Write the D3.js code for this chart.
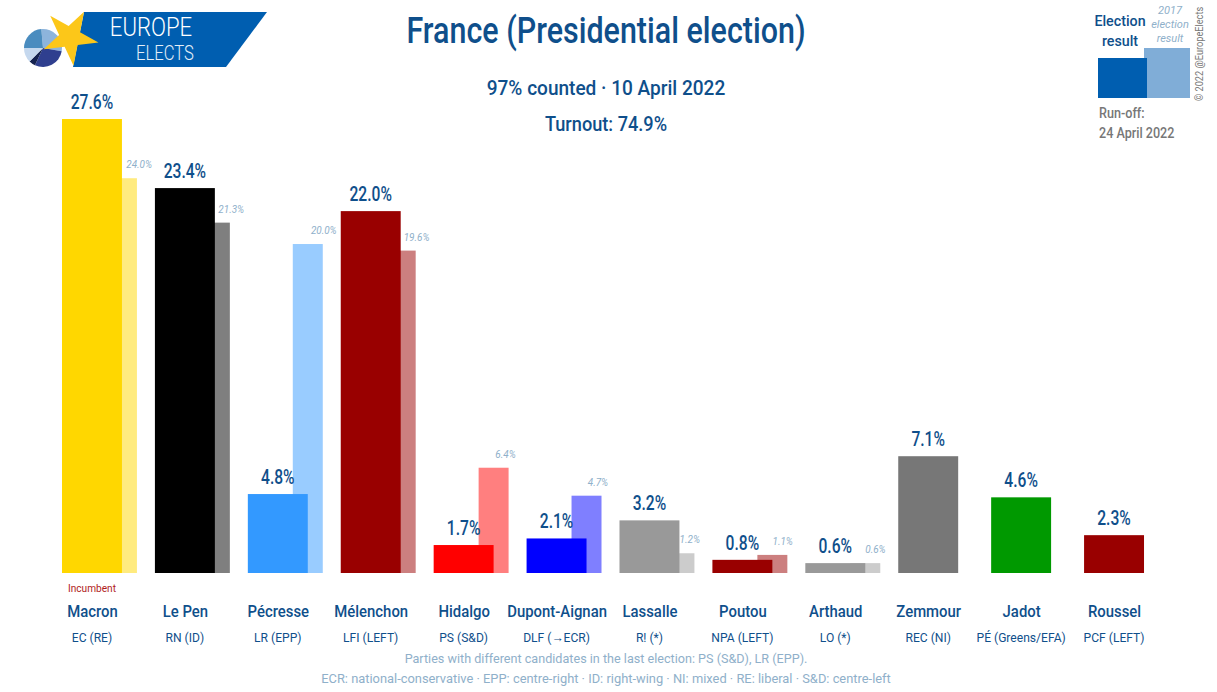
<!DOCTYPE html>
<html>
<head>
<meta charset="utf-8">
<script src="https://cdn.jsdelivr.net/npm/d3@7"></script>
<style>
    body { margin: 0; background: #fff; }
    svg { display: block; }
    text { font-family: "Roboto", sans-serif; }
</style>
</head>
<body>
<svg id="chart" width="1217" height="692"></svg>
<script>
const candidates = ["Macron","Le Pen","Pécresse","Mélenchon","Hidalgo","Dupont-Aignan","Lassalle","Poutou","Arthaud","Zemmour","Jadot","Roussel"]
const parties = ["EC (RE)","RN (ID)","LR (EPP)","LFI (LEFT)","PS (S&D)","DLF (→ECR)","R! (*)","NPA (LEFT)","LO (*)","REC (NI)","PÉ (Greens/EFA)","PCF (LEFT)"]
const results = [27.6,23.4,4.8,22.0,1.7,2.1,3.2,0.8,0.6,7.1,4.6,2.3]
const previous = [24.0,21.3,20.0,19.6,6.4,4.7,1.2,1.1,0.6,null,null,null]
const colors = ["#FFD700","#000000","#3399FF","#990000","#FF0000","#0000FF","#999999","#990000","#999999","#777777","#009900","#990000"]
const logoPie = [105,105,20,45,85]
const logoPieColors = ["#8db4dc","#2f3f8f","#15224f","#c5d8ee","#4a8cbf"]

const navy = "#0f4f8b"
const pale = "#8fb0ca"

const svg = d3.select("#chart")
const rows = candidates.map((name,i)=>({name,party:parties[i],value:results[i],prev:previous[i],color:colors[i]}))

// the font is wider than the original, so text gets pulled in horizontally
const squeeze = (sel,k)=>sel.each(function(){
    d3.select(this)
        .attr("textLength",this.getComputedTextLength()*k)
        .attr("lengthAdjust","spacingAndGlyphs")
})

const baseline = 573
const y = d3.scaleLinear().domain([0,27.6]).range([baseline,119])

// one band = main bar (60px) + the part of the old bar sticking out (15px)
const band = d3.scaleBand().domain(candidates).range([62,1159]).paddingInner(18/93)
const mainWidth = band.bandwidth()*0.8
const prevWidth = band.bandwidth()*0.4
const prevLeft = (d)=>band(d.name)+band.bandwidth()-prevWidth

// old bars go first so the new ones sit on top
svg.append("g").selectAll("rect")
    .data(rows.filter(d=>d.prev!==null))
    .join("rect")
    .attr("x",prevLeft)
    .attr("y",d=>y(d.prev))
    .attr("width",prevWidth)
    .attr("height",d=>baseline-y(d.prev))
    .attr("fill",d=>d.color)
    .attr("fill-opacity",0.5)

svg.append("g").selectAll("rect")
    .data(rows)
    .join("rect")
    .attr("x",d=>band(d.name))
    .attr("y",d=>y(d.value))
    .attr("width",mainWidth)
    .attr("height",d=>baseline-y(d.value))
    .attr("fill",d=>d.color)

svg.append("g").selectAll("text")
    .data(rows)
    .join("text")
    .attr("x",d=>band(d.name)+mainWidth/2)
    .attr("y",d=>y(d.value)-10)
    .attr("text-anchor","middle")
    .attr("font-size",20)
    .attr("font-weight",500)
    .attr("fill",navy)
    .text(d=>d.value.toFixed(1)+"%")
    .call(squeeze,0.78)

svg.append("g").selectAll("text")
    .data(rows.filter(d=>d.prev!==null))
    .join("text")
    .attr("x",d=>prevLeft(d)+prevWidth/2+10+d.prev*0.3)
    .attr("y",d=>y(d.prev)-10)
    .attr("text-anchor","middle")
    .attr("font-size",11)
    .attr("font-style","italic")
    .attr("fill",pale)
    .text(d=>d.prev.toFixed(1)+"%")
    .call(squeeze,0.9)

// names and parties sit on the bar centre
const xLabel = d3.scalePoint().domain(candidates).range([band(candidates[0])+mainWidth/2,band(candidates[11])+mainWidth/2])

svg.append("g")
    .attr("transform",`translate(0,${baseline+44})`)
    .call(d3.axisBottom(xLabel).tickSize(0).tickPadding(0))
    .call(g=>g.select(".domain").remove())
    .call(g=>g.selectAll("text")
        .attr("dy",0)
        .attr("y",0)
        .attr("font-size",16)
        .attr("font-weight",500)
        .attr("fill",navy)
        .call(squeeze,0.93))

svg.append("g").selectAll("text")
    .data(rows)
    .join("text")
    .attr("x",d=>xLabel(d.name))
    .attr("y",baseline+69)
    .attr("text-anchor","middle")
    .attr("font-size",13)
    .attr("fill",navy)
    .text(d=>d.party)
    .call(squeeze,0.93)

svg.append("text")
    .attr("x",xLabel("Macron"))
    .attr("y",baseline+19)
    .attr("text-anchor","middle")
    .attr("font-size",11)
    .attr("fill","#b01c1c")
    .text("Incumbent")
    .call(squeeze,0.92)

const addText = (txt,x,yy,size,fill,k,extra={})=>{
    const t = svg.append("text")
        .attr("x",x).attr("y",yy)
        .attr("text-anchor",extra.anchor||"middle")
        .attr("font-size",size)
        .attr("fill",fill)
        .text(txt)
    if(extra.weight) t.attr("font-weight",extra.weight)
    if(extra.style) t.attr("font-style",extra.style)
    return t.call(squeeze,k)
}

addText("France (Presidential election)",606,43,36,navy,0.846,{weight:500})
addText("97% counted · 10 April 2022",606,95,21,navy,0.907,{weight:500})
addText("Turnout: 74.9%",606,131,21,navy,0.865,{weight:500})

addText("Parties with different candidates in the last election: PS (S&D), LR (EPP).",606,663,13,pale,0.97)
addText("ECR: national-conservative · EPP: centre-right · ID: right-wing · NI: mixed · RE: liberal · S&D: centre-left",606,683,13,pale,0.99)

// legend top right
svg.append("rect").attr("x",1144).attr("y",48).attr("width",46).attr("height",50).attr("fill","#80add7")
svg.append("rect").attr("x",1098).attr("y",58).attr("width",49).attr("height",40).attr("fill","#005eb0")
addText("Election",1120,26,15,navy,0.95,{weight:500})
addText("result",1120,46,15,navy,0.95,{weight:500})
addText("2017",1170,14,11,pale,1,{style:"italic"})
addText("election",1170,28,11,pale,1,{style:"italic"})
addText("result",1170,42,11,pale,1,{style:"italic"})
addText("Run-off:",1099,118,14,"#777",0.9,{anchor:"start",weight:500})
addText("24 April 2022",1099,138,14,"#777",0.9,{anchor:"start",weight:500})
addText("© 2022 @EuropeElects",0,0,10,"#777",0.92,{anchor:"start"})
    .attr("transform","translate(1203,101) rotate(-90)")

// logo
svg.append("path")
    .attr("d",d3.line()([[84,12],[267,12],[226,67],[73,67]]))
    .attr("fill","#005eb0")

const pie = d3.pie().sort(null).startAngle(-Math.PI/36).endAngle(2*Math.PI-Math.PI/36)
const arc = d3.arc().innerRadius(0).outerRadius(19)
svg.append("g")
    .attr("transform","translate(43,48)")
    .selectAll("path")
    .data(pie(logoPie))
    .join("path")
    .attr("d",arc)
    .attr("fill",(d,i)=>logoPieColors[i])

svg.append("path")
    .attr("d",d3.symbol(d3.symbolStar,944)())
    .attr("transform","translate(70,37) rotate(29)")
    .attr("fill","#fcc719")

addText("EUROPE",151,36,26,"#fff",0.85,{weight:300})
addText("ELECTS",165,60,20,"#e4eef8",0.83,{weight:300})
</script>
</body>
</html>
